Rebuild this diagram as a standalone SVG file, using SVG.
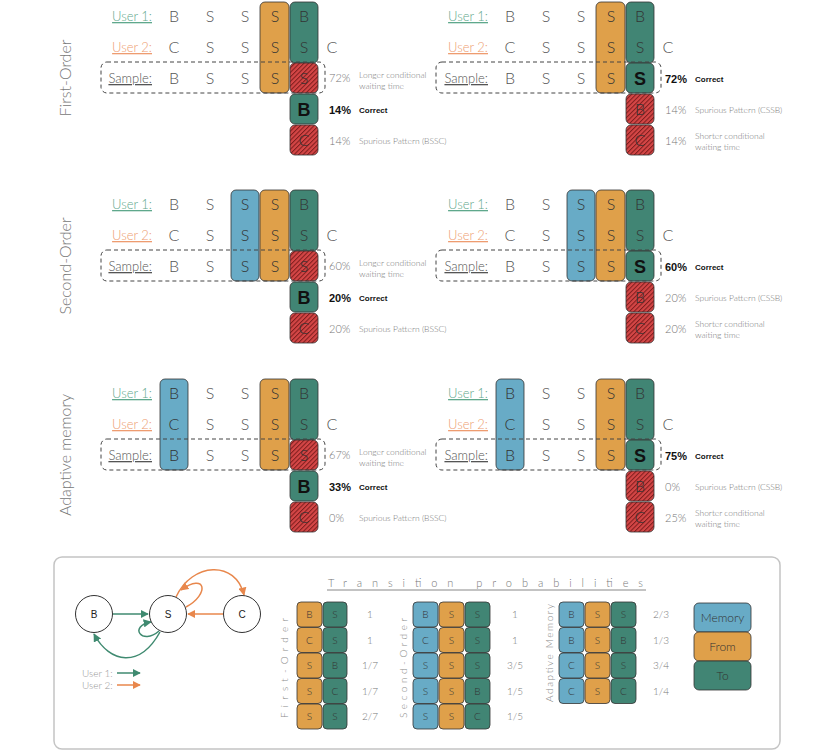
<svg xmlns="http://www.w3.org/2000/svg" width="830" height="752" viewBox="0 0 830 752">
<style>
text{font-family:Lato,"Open Sans","Liberation Sans",sans-serif;font-weight:300}
.L{font-size:16px;fill:#555;text-anchor:middle}
.cl{font-size:16px;fill:#333;text-anchor:middle}
.lab{font-size:13px;text-anchor:end;text-decoration:underline}
.u1{fill:#5fa88c}.u2{fill:#ee9c70}.sm{fill:#555}
.pct{font-size:11px;fill:#777}
.desc{font-size:8.5px;fill:#777}
.bp{font-family:"Liberation Sans",Arial,sans-serif;font-weight:bold;font-size:11px;fill:#111}
.bd{font-family:"Liberation Sans",Arial,sans-serif;font-weight:bold;font-size:8px;fill:#111}
.bl17{font-family:"Liberation Sans",Arial,sans-serif;font-weight:bold;font-size:18px;fill:#111;text-anchor:middle}
.col{stroke:#333;stroke-width:0.8}
.or{fill:#dfa04a}.gr{fill:#418574}.bl{fill:#68abc6}.rd{fill:url(#hatch)}
.dash{fill:none;stroke:#444;stroke-width:1;stroke-dasharray:4 3}
.side{font-size:16px;fill:#777;text-anchor:middle}
.tc{font-size:10px;fill:#333;text-anchor:middle}
.pr{font-size:10px;fill:#777;text-anchor:middle}
.tl{font-size:10px;fill:#888;text-anchor:middle}
.node{fill:#fff;stroke:#333;stroke-width:1}
.nl{font-family:"Liberation Sans",Arial,sans-serif;font-weight:normal;font-size:10px;fill:#222;text-anchor:middle}
.eg{fill:none;stroke:#3f8a70;stroke-width:1.5}
.eo{fill:none;stroke:#e8874c;stroke-width:1.5}
.lg{font-size:10px;fill:#999}
.leg{font-size:12px;fill:#333;text-anchor:middle}
</style>
<defs>
<pattern id="hatch" width="3.2" height="3.2" patternUnits="userSpaceOnUse" patternTransform="rotate(45)">
<rect width="3.2" height="3.2" fill="#d44646"/>
<line x1="0.5" y1="0" x2="0.5" y2="3.2" stroke="#7e1d1d" stroke-width="1"/>
</pattern>
<marker id="ag" viewBox="0 0 10 10" refX="9" refY="5" markerWidth="5.5" markerHeight="5.5" orient="auto"><path d="M0,0 L10,5 L0,10 z" fill="#3f8a70"/></marker>
<marker id="ao" viewBox="0 0 10 10" refX="9" refY="5" markerWidth="5.5" markerHeight="5.5" orient="auto"><path d="M0,0 L10,5 L0,10 z" fill="#e8874c"/></marker>
</defs>
<rect width="830" height="752" fill="#fff"/>

<!-- side labels -->
<text class="side" transform="translate(71,78) rotate(-90)">First-Order</text>
<text class="side" transform="translate(71,266) rotate(-90)">Second-Order</text>
<text class="side" transform="translate(71,455) rotate(-90)">Adaptive memory</text>

<!-- ===== First-Order left ===== -->
<g id="fo-left">
<text class="lab u1" x="152" y="21">User 1:</text>
<text class="lab u2" x="152" y="52">User 2:</text>
<text class="lab sm" x="152" y="83">Sample:</text>
<rect class="col or" x="260" y="2" width="29" height="91" rx="5"/>
<rect class="col gr" x="290" y="2" width="28" height="61" rx="5"/>
<rect class="col rd" x="290" y="63" width="28" height="30" rx="5"/>
<rect class="col gr" x="290" y="94" width="28" height="30" rx="5"/>
<rect class="col rd" x="290" y="125" width="28" height="30" rx="5"/>
<text class="L" x="174" y="22">B</text><text class="L" x="210" y="22">S</text><text class="L" x="245" y="22">S</text><text class="cl" x="275" y="22">S</text><text class="cl" x="304" y="22">B</text>
<text class="L" x="174" y="53">C</text><text class="L" x="210" y="53">S</text><text class="L" x="245" y="53">S</text><text class="cl" x="275" y="53">S</text><text class="cl" x="304" y="53">S</text><text class="L" x="332" y="53">C</text>
<text class="L" x="174" y="84">B</text><text class="L" x="210" y="84">S</text><text class="L" x="245" y="84">S</text><text class="cl" x="275" y="84">S</text><text class="cl" x="304" y="84">S</text>
<text class="bl17" x="304" y="116">B</text>
<text class="cl" x="304" y="146">C</text>
<rect class="dash" x="101" y="62" width="224" height="31" rx="6"/>
<text class="pct" x="329" y="82">72%</text>
<text class="desc" x="359" y="78">Longer conditional</text><text class="desc" x="359" y="89">waiting time</text>
<text class="bp" x="329" y="114">14%</text><text class="bd" x="359" y="113">Correct</text>
<text class="pct" x="329" y="145">14%</text><text class="desc" x="359" y="144">Spurious Pattern (BSSC)</text>
</g>

<!-- ===== First-Order right ===== -->
<g id="fo-right" transform="translate(336,0)">
<text class="lab u1" x="152" y="21">User 1:</text>
<text class="lab u2" x="152" y="52">User 2:</text>
<text class="lab sm" x="152" y="83">Sample:</text>
<rect class="col or" x="260" y="2" width="29" height="91" rx="5"/>
<rect class="col gr" x="290" y="2" width="28" height="61" rx="5"/>
<rect class="col gr" x="290" y="63" width="28" height="30" rx="5"/>
<rect class="col rd" x="290" y="94" width="28" height="30" rx="5"/>
<rect class="col rd" x="290" y="125" width="28" height="30" rx="5"/>
<text class="L" x="174" y="22">B</text><text class="L" x="210" y="22">S</text><text class="L" x="245" y="22">S</text><text class="cl" x="275" y="22">S</text><text class="cl" x="304" y="22">B</text>
<text class="L" x="174" y="53">C</text><text class="L" x="210" y="53">S</text><text class="L" x="245" y="53">S</text><text class="cl" x="275" y="53">S</text><text class="cl" x="304" y="53">S</text><text class="L" x="332" y="53">C</text>
<text class="L" x="174" y="84">B</text><text class="L" x="210" y="84">S</text><text class="L" x="245" y="84">S</text><text class="cl" x="275" y="84">S</text>
<text class="bl17" x="304" y="85">S</text>
<text class="cl" x="304" y="115">B</text>
<text class="cl" x="304" y="146">C</text>
<rect class="dash" x="100" y="62" width="225" height="31" rx="6"/>
<text class="bp" x="329" y="83">72%</text><text class="bd" x="359" y="82">Correct</text>
<text class="pct" x="329" y="114">14%</text><text class="desc" x="359" y="113">Spurious Pattern (CSSB)</text>
<text class="pct" x="329" y="145">14%</text>
<text class="desc" x="359" y="139">Shorter conditional</text><text class="desc" x="359" y="150">waiting time</text>
</g>

<!-- ===== Second-Order left ===== -->
<g id="so-left" transform="translate(0,188)">
<text class="lab u1" x="152" y="21">User 1:</text>
<text class="lab u2" x="152" y="52">User 2:</text>
<text class="lab sm" x="152" y="83">Sample:</text>
<rect class="col bl" x="231" y="2" width="28" height="91" rx="5"/>
<rect class="col or" x="260" y="2" width="29" height="91" rx="5"/>
<rect class="col gr" x="290" y="2" width="28" height="61" rx="5"/>
<rect class="col rd" x="290" y="63" width="28" height="30" rx="5"/>
<rect class="col gr" x="290" y="94" width="28" height="30" rx="5"/>
<rect class="col rd" x="290" y="125" width="28" height="30" rx="5"/>
<text class="L" x="174" y="22">B</text><text class="L" x="210" y="22">S</text><text class="cl" x="245" y="22">S</text><text class="cl" x="275" y="22">S</text><text class="cl" x="304" y="22">B</text>
<text class="L" x="174" y="53">C</text><text class="L" x="210" y="53">S</text><text class="cl" x="245" y="53">S</text><text class="cl" x="275" y="53">S</text><text class="cl" x="304" y="53">S</text><text class="L" x="332" y="53">C</text>
<text class="L" x="174" y="84">B</text><text class="L" x="210" y="84">S</text><text class="cl" x="245" y="84">S</text><text class="cl" x="275" y="84">S</text><text class="cl" x="304" y="84">S</text>
<text class="bl17" x="304" y="116">B</text>
<text class="cl" x="304" y="146">C</text>
<rect class="dash" x="101" y="62" width="224" height="31" rx="6"/>
<text class="pct" x="329" y="82">60%</text>
<text class="desc" x="359" y="78">Longer conditional</text><text class="desc" x="359" y="89">waiting time</text>
<text class="bp" x="329" y="114">20%</text><text class="bd" x="359" y="113">Correct</text>
<text class="pct" x="329" y="145">20%</text><text class="desc" x="359" y="144">Spurious Pattern (BSSC)</text>
</g>

<!-- ===== Second-Order right ===== -->
<g id="so-right" transform="translate(336,188)">
<text class="lab u1" x="152" y="21">User 1:</text>
<text class="lab u2" x="152" y="52">User 2:</text>
<text class="lab sm" x="152" y="83">Sample:</text>
<rect class="col bl" x="231" y="2" width="28" height="91" rx="5"/>
<rect class="col or" x="260" y="2" width="29" height="91" rx="5"/>
<rect class="col gr" x="290" y="2" width="28" height="61" rx="5"/>
<rect class="col gr" x="290" y="63" width="28" height="30" rx="5"/>
<rect class="col rd" x="290" y="94" width="28" height="30" rx="5"/>
<rect class="col rd" x="290" y="125" width="28" height="30" rx="5"/>
<text class="L" x="174" y="22">B</text><text class="L" x="210" y="22">S</text><text class="cl" x="245" y="22">S</text><text class="cl" x="275" y="22">S</text><text class="cl" x="304" y="22">B</text>
<text class="L" x="174" y="53">C</text><text class="L" x="210" y="53">S</text><text class="cl" x="245" y="53">S</text><text class="cl" x="275" y="53">S</text><text class="cl" x="304" y="53">S</text><text class="L" x="332" y="53">C</text>
<text class="L" x="174" y="84">B</text><text class="L" x="210" y="84">S</text><text class="cl" x="245" y="84">S</text><text class="cl" x="275" y="84">S</text>
<text class="bl17" x="304" y="85">S</text>
<text class="cl" x="304" y="115">B</text>
<text class="cl" x="304" y="146">C</text>
<rect class="dash" x="100" y="62" width="225" height="31" rx="6"/>
<text class="bp" x="329" y="83">60%</text><text class="bd" x="359" y="82">Correct</text>
<text class="pct" x="329" y="114">20%</text><text class="desc" x="359" y="113">Spurious Pattern (CSSB)</text>
<text class="pct" x="329" y="145">20%</text>
<text class="desc" x="359" y="139">Shorter conditional</text><text class="desc" x="359" y="150">waiting time</text>
</g>

<!-- ===== Adaptive left ===== -->
<g id="am-left" transform="translate(0,377)">
<text class="lab u1" x="152" y="21">User 1:</text>
<text class="lab u2" x="152" y="52">User 2:</text>
<text class="lab sm" x="152" y="83">Sample:</text>
<rect class="col bl" x="160" y="2" width="28" height="91" rx="5"/>
<rect class="col or" x="260" y="2" width="29" height="91" rx="5"/>
<rect class="col gr" x="290" y="2" width="28" height="61" rx="5"/>
<rect class="col rd" x="290" y="63" width="28" height="30" rx="5"/>
<rect class="col gr" x="290" y="94" width="28" height="30" rx="5"/>
<rect class="col rd" x="290" y="125" width="28" height="30" rx="5"/>
<text class="cl" x="174" y="22">B</text><text class="L" x="210" y="22">S</text><text class="L" x="245" y="22">S</text><text class="cl" x="275" y="22">S</text><text class="cl" x="304" y="22">B</text>
<text class="cl" x="174" y="53">C</text><text class="L" x="210" y="53">S</text><text class="L" x="245" y="53">S</text><text class="cl" x="275" y="53">S</text><text class="cl" x="304" y="53">S</text><text class="L" x="332" y="53">C</text>
<text class="cl" x="174" y="84">B</text><text class="L" x="210" y="84">S</text><text class="L" x="245" y="84">S</text><text class="cl" x="275" y="84">S</text><text class="cl" x="304" y="84">S</text>
<text class="bl17" x="304" y="116">B</text>
<text class="cl" x="304" y="146">C</text>
<rect class="dash" x="101" y="62" width="224" height="31" rx="6"/>
<text class="pct" x="329" y="82">67%</text>
<text class="desc" x="359" y="78">Longer conditional</text><text class="desc" x="359" y="89">waiting time</text>
<text class="bp" x="329" y="114">33%</text><text class="bd" x="359" y="113">Correct</text>
<text class="pct" x="329" y="145">0%</text><text class="desc" x="359" y="144">Spurious Pattern (BSSC)</text>
</g>

<!-- ===== Adaptive right ===== -->
<g id="am-right" transform="translate(336,377)">
<text class="lab u1" x="152" y="21">User 1:</text>
<text class="lab u2" x="152" y="52">User 2:</text>
<text class="lab sm" x="152" y="83">Sample:</text>
<rect class="col bl" x="160" y="2" width="28" height="91" rx="5"/>
<rect class="col or" x="260" y="2" width="29" height="91" rx="5"/>
<rect class="col gr" x="290" y="2" width="28" height="61" rx="5"/>
<rect class="col gr" x="290" y="63" width="28" height="30" rx="5"/>
<rect class="col rd" x="290" y="94" width="28" height="30" rx="5"/>
<rect class="col rd" x="290" y="125" width="28" height="30" rx="5"/>
<text class="cl" x="174" y="22">B</text><text class="L" x="210" y="22">S</text><text class="L" x="245" y="22">S</text><text class="cl" x="275" y="22">S</text><text class="cl" x="304" y="22">B</text>
<text class="cl" x="174" y="53">C</text><text class="L" x="210" y="53">S</text><text class="L" x="245" y="53">S</text><text class="cl" x="275" y="53">S</text><text class="cl" x="304" y="53">S</text><text class="L" x="332" y="53">C</text>
<text class="cl" x="174" y="84">B</text><text class="L" x="210" y="84">S</text><text class="L" x="245" y="84">S</text><text class="cl" x="275" y="84">S</text>
<text class="bl17" x="304" y="85">S</text>
<text class="cl" x="304" y="115">B</text>
<text class="cl" x="304" y="146">C</text>
<rect class="dash" x="100" y="62" width="225" height="31" rx="6"/>
<text class="bp" x="329" y="83">75%</text><text class="bd" x="359" y="82">Correct</text>
<text class="pct" x="329" y="114">0%</text><text class="desc" x="359" y="113">Spurious Pattern (CSSB)</text>
<text class="pct" x="329" y="145">25%</text>
<text class="desc" x="359" y="139">Shorter conditional</text><text class="desc" x="359" y="150">waiting time</text>
</g>

<!-- ===== Bottom box ===== -->
<rect x="54" y="557" width="726" height="192" rx="8" fill="none" stroke="#c4c4c4" stroke-width="1.5"/>

<g id="connectors">
<path class="eg" d="M113,614 L148,614" marker-end="url(#ag)"/>
<path class="eg" d="M159,631 C142,646 128,626 151,622" marker-end="url(#ag)"/>
<path class="eg" d="M160,632 C140,668 110,664 94,634" marker-end="url(#ag)"/>
<path class="eo" d="M223,614 L188,614" marker-end="url(#ao)"/>
<path class="eo" d="M176,597 C192,562 236,560 244,595" marker-end="url(#ao)"/>
<path class="eo" d="M186,607 C210,594 206,572 181,590" marker-end="url(#ao)"/>
<path class="eg" d="M117,673 L140,673" marker-end="url(#ag)"/>
<path class="eo" d="M117,685 L140,685" marker-end="url(#ao)"/>
</g>
<g id="node-B"><circle class="node" cx="94" cy="614" r="18.5"/><text class="nl" x="94" y="618">B</text></g>
<g id="node-S"><circle class="node" cx="168" cy="614" r="18.5"/><text class="nl" x="168" y="618">S</text></g>
<g id="node-C"><circle class="node" cx="242" cy="614" r="18.5"/><text class="nl" x="242" y="618">C</text></g>
<text class="lg" x="82" y="677">User 1:</text>
<text class="lg" x="82" y="689">User 2:</text>

<text x="328" y="587" font-size="11" fill="#777" textLength="315" lengthAdjust="spacing">Transition probabilities</text>
<line x1="327" y1="590" x2="646" y2="590" stroke="#888" stroke-width="1"/>

<!-- First-Order table -->
<g id="tbl-first">
<text class="tl" transform="translate(288,668) rotate(-90)" textLength="100" lengthAdjust="spacing">First-Order</text>
<rect class="col or" x="297" y="602" width="25" height="25" rx="4"/><rect class="col gr" x="323" y="602" width="24" height="25" rx="4"/>
<rect class="col or" x="297" y="627.5" width="25" height="25" rx="4"/><rect class="col gr" x="323" y="627.5" width="24" height="25" rx="4"/>
<rect class="col or" x="297" y="653" width="25" height="25" rx="4"/><rect class="col gr" x="323" y="653" width="24" height="25" rx="4"/>
<rect class="col or" x="297" y="678.5" width="25" height="25" rx="4"/><rect class="col gr" x="323" y="678.5" width="24" height="25" rx="4"/>
<rect class="col or" x="297" y="704" width="25" height="25" rx="4"/><rect class="col gr" x="323" y="704" width="24" height="25" rx="4"/>
<text class="tc" x="309.5" y="618">B</text><text class="tc" x="335" y="618">S</text><text class="pr" x="370" y="618">1</text>
<text class="tc" x="309.5" y="643.5">C</text><text class="tc" x="335" y="643.5">S</text><text class="pr" x="370" y="643.5">1</text>
<text class="tc" x="309.5" y="669">S</text><text class="tc" x="335" y="669">B</text><text class="pr" x="370" y="669">1/7</text>
<text class="tc" x="309.5" y="694.5">S</text><text class="tc" x="335" y="694.5">C</text><text class="pr" x="370" y="694.5">1/7</text>
<text class="tc" x="309.5" y="720">S</text><text class="tc" x="335" y="720">S</text><text class="pr" x="370" y="720">2/7</text>
</g>

<!-- Second-Order table -->
<g id="tbl-second">
<text class="tl" transform="translate(407,668) rotate(-90)" textLength="100" lengthAdjust="spacing">Second-Order</text>
<rect class="col bl" x="413" y="602" width="25" height="25" rx="4"/><rect class="col or" x="439" y="602" width="25" height="25" rx="4"/><rect class="col gr" x="465" y="602" width="25" height="25" rx="4"/>
<rect class="col bl" x="413" y="627.5" width="25" height="25" rx="4"/><rect class="col or" x="439" y="627.5" width="25" height="25" rx="4"/><rect class="col gr" x="465" y="627.5" width="25" height="25" rx="4"/>
<rect class="col bl" x="413" y="653" width="25" height="25" rx="4"/><rect class="col or" x="439" y="653" width="25" height="25" rx="4"/><rect class="col gr" x="465" y="653" width="25" height="25" rx="4"/>
<rect class="col bl" x="413" y="678.5" width="25" height="25" rx="4"/><rect class="col or" x="439" y="678.5" width="25" height="25" rx="4"/><rect class="col gr" x="465" y="678.5" width="25" height="25" rx="4"/>
<rect class="col bl" x="413" y="704" width="25" height="25" rx="4"/><rect class="col or" x="439" y="704" width="25" height="25" rx="4"/><rect class="col gr" x="465" y="704" width="25" height="25" rx="4"/>
<text class="tc" x="425.5" y="618">B</text><text class="tc" x="451.5" y="618">S</text><text class="tc" x="477.5" y="618">S</text><text class="pr" x="515" y="618">1</text>
<text class="tc" x="425.5" y="643.5">C</text><text class="tc" x="451.5" y="643.5">S</text><text class="tc" x="477.5" y="643.5">S</text><text class="pr" x="515" y="643.5">1</text>
<text class="tc" x="425.5" y="669">S</text><text class="tc" x="451.5" y="669">S</text><text class="tc" x="477.5" y="669">S</text><text class="pr" x="515" y="669">3/5</text>
<text class="tc" x="425.5" y="694.5">S</text><text class="tc" x="451.5" y="694.5">S</text><text class="tc" x="477.5" y="694.5">B</text><text class="pr" x="515" y="694.5">1/5</text>
<text class="tc" x="425.5" y="720">S</text><text class="tc" x="451.5" y="720">S</text><text class="tc" x="477.5" y="720">C</text><text class="pr" x="515" y="720">1/5</text>
</g>

<!-- Adaptive Memory table -->
<g id="tbl-adaptive">
<text class="tl" transform="translate(553,653) rotate(-90)" textLength="98" lengthAdjust="spacing">Adaptive Memory</text>
<rect class="col bl" x="559" y="602" width="25" height="25" rx="4"/><rect class="col or" x="585" y="602" width="25" height="25" rx="4"/><rect class="col gr" x="611" y="602" width="25" height="25" rx="4"/>
<rect class="col bl" x="559" y="627.5" width="25" height="25" rx="4"/><rect class="col or" x="585" y="627.5" width="25" height="25" rx="4"/><rect class="col gr" x="611" y="627.5" width="25" height="25" rx="4"/>
<rect class="col bl" x="559" y="653" width="25" height="25" rx="4"/><rect class="col or" x="585" y="653" width="25" height="25" rx="4"/><rect class="col gr" x="611" y="653" width="25" height="25" rx="4"/>
<rect class="col bl" x="559" y="678.5" width="25" height="25" rx="4"/><rect class="col or" x="585" y="678.5" width="25" height="25" rx="4"/><rect class="col gr" x="611" y="678.5" width="25" height="25" rx="4"/>
<text class="tc" x="571.5" y="618">B</text><text class="tc" x="597.5" y="618">S</text><text class="tc" x="623.5" y="618">S</text><text class="pr" x="661" y="618">2/3</text>
<text class="tc" x="571.5" y="643.5">B</text><text class="tc" x="597.5" y="643.5">S</text><text class="tc" x="623.5" y="643.5">B</text><text class="pr" x="661" y="643.5">1/3</text>
<text class="tc" x="571.5" y="669">C</text><text class="tc" x="597.5" y="669">S</text><text class="tc" x="623.5" y="669">S</text><text class="pr" x="661" y="669">3/4</text>
<text class="tc" x="571.5" y="694.5">C</text><text class="tc" x="597.5" y="694.5">S</text><text class="tc" x="623.5" y="694.5">C</text><text class="pr" x="661" y="694.5">1/4</text>
</g>

<!-- Legend -->
<g id="legend">
<rect class="col bl" x="694" y="603" width="57" height="29" rx="5"/><text class="leg" x="722.5" y="622">Memory</text>
<rect class="col or" x="694" y="632" width="57" height="29" rx="5"/><text class="leg" x="722.5" y="651">From</text>
<rect class="col gr" x="694" y="661" width="57" height="29" rx="5"/><text class="leg" x="722.5" y="680">To</text>
</g>
</svg>
